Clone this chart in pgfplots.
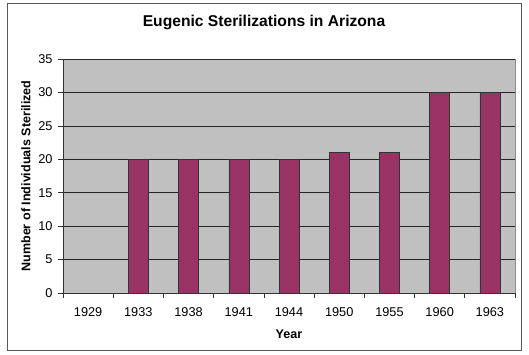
\documentclass[border=0pt]{standalone}
\usepackage{pgfplots}
\pgfplotsset{compat=1.18}
\usepackage{fontspec}
\setmainfont{Liberation Sans}
\definecolor{barcol}{RGB}{153,51,102}
\definecolor{plotbg}{RGB}{192,192,192}
\begin{document}
\begin{tikzpicture}
\path[use as bounding box] (-63bp,-62bp) rectangle (466bp,293bp);
\draw[black!65, line width=0.8bp] (-56bp,-57bp) rectangle (458bp,290bp);
\node[font=\fontsize{15.7}{18}\selectfont\bfseries] at (201bp,271bp) {Eugenic Sterilizations in Arizona};
\begin{axis}[
  at={(0,0)}, anchor=south west,
  scale only axis, width=452bp, height=234bp,
  xmin=-0.5, xmax=8.5, ymin=0, ymax=35,
  axis background/.style={fill=plotbg, draw=black!45},
  axis lines*=left,
  axis line style={black!80, line width=0.7bp},
  ytick={0,5,...,35},
  ymajorgrids, grid style={black!85, line width=0.6bp},
  xtick={0,...,8},
  xticklabels={1929,1933,1938,1941,1944,1950,1955,1960,1963},
  major x tick style={draw=none},
  minor xtick={-0.5,0.5,...,8.5},
  minor x tick style={black!80, line width=0.6bp},
  major y tick style={black!80, line width=0.6bp},
  tick align=outside, major tick length=5bp, minor tick length=5bp,
  /pgf/number format/assume math mode=true,
  ticklabel style={font=\fontsize{12.8}{14}\selectfont},
  yticklabel style={xshift=-2bp},
  xticklabel style={yshift=-6bp},
  xlabel={Year}, ylabel={Number of Individuals Sterilized},
  label style={font=\fontsize{12.6}{14}\selectfont\bfseries},
  xlabel style={at={(axis description cs:0.5,0)}, anchor=center, yshift=-41bp},
  ylabel style={at={(axis description cs:0,0.5)}, anchor=center, yshift=37bp},
  ybar, bar width=20bp,
]
\addplot[fill=barcol, draw=black!80, line width=0.5bp] coordinates {
  (0,0) (1,20) (2,20) (3,20) (4,20) (5,21) (6,21) (7,30) (8,30)
};
\end{axis}
\end{tikzpicture}
\end{document}
